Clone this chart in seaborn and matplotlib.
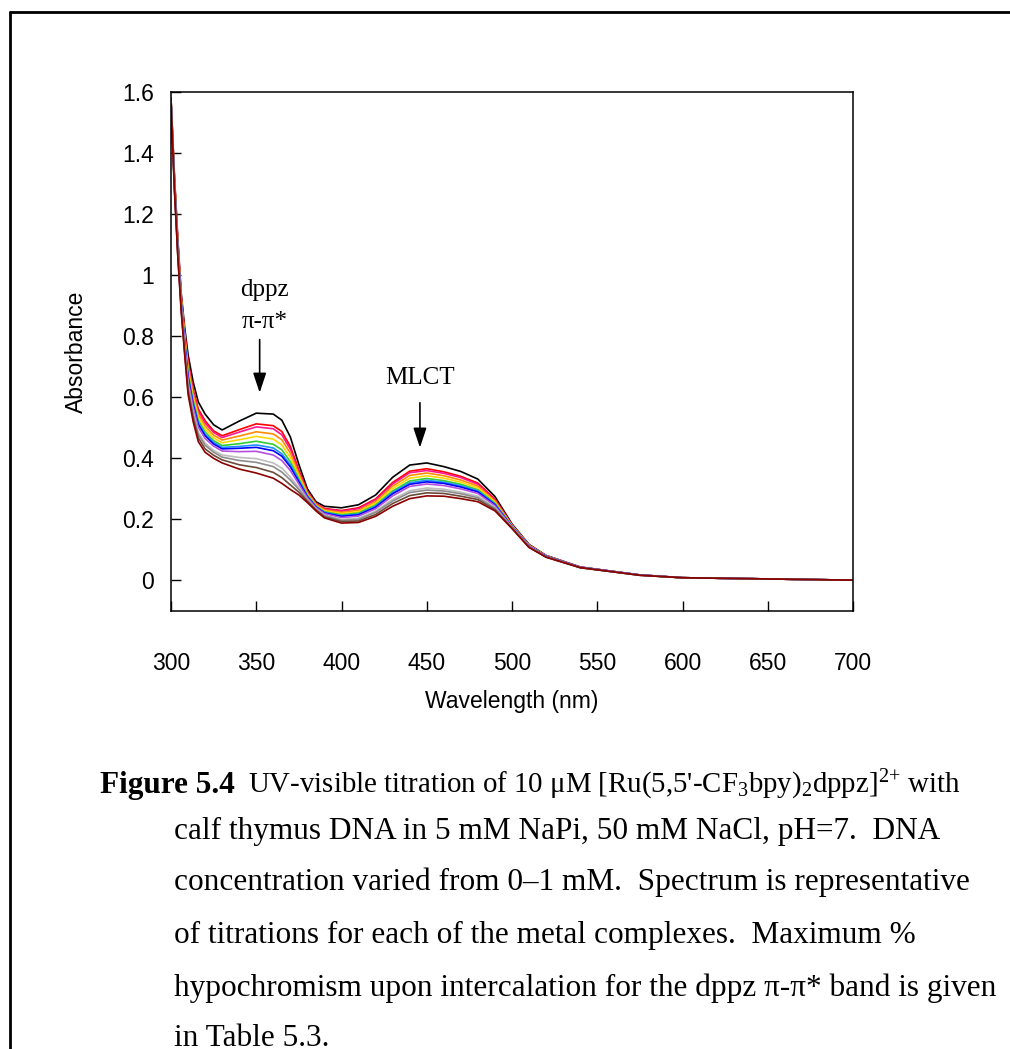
import numpy as np
import pandas as pd
import matplotlib
matplotlib.use("Agg")
import matplotlib.pyplot as plt
from matplotlib.lines import Line2D
import seaborn as sns

# ---------------- data ----------------
wavelength = [300, 302, 304, 306, 308, 310, 313, 316, 320, 325, 330, 340, 350, 360, 365,
              370, 375, 380, 385, 390, 400, 410, 420, 430, 440, 450, 460, 470, 480, 490,
              500, 510, 520, 540, 575, 600, 700]

a_black = [1.580, 1.330, 1.120, 0.940, 0.830, 0.740, 0.650, 0.585, 0.545, 0.510, 0.493, 0.522, 0.548, 0.545, 0.525,
           0.470, 0.380, 0.300, 0.258, 0.243, 0.238, 0.248, 0.280, 0.338, 0.378, 0.385, 0.373, 0.357, 0.332, 0.275,
           0.185, 0.118, 0.082, 0.044, 0.018, 0.009, 0.001]
a_red = [1.576, 1.321, 1.109, 0.929, 0.814, 0.717, 0.627, 0.562, 0.523, 0.490, 0.474, 0.494, 0.513, 0.507, 0.488,
         0.439, 0.362, 0.292, 0.253, 0.236, 0.229, 0.238, 0.267, 0.321, 0.358, 0.366, 0.356, 0.341, 0.319, 0.267,
         0.182, 0.116, 0.081, 0.044, 0.018, 0.009, 0.001]
a_pink = [1.575, 1.318, 1.106, 0.926, 0.809, 0.710, 0.620, 0.555, 0.516, 0.485, 0.468, 0.486, 0.503, 0.497, 0.477,
          0.430, 0.357, 0.290, 0.251, 0.234, 0.227, 0.235, 0.264, 0.316, 0.353, 0.360, 0.351, 0.337, 0.315, 0.264,
          0.182, 0.116, 0.081, 0.044, 0.018, 0.009, 0.001]
a_orange = [1.574, 1.314, 1.101, 0.921, 0.802, 0.700, 0.610, 0.545, 0.506, 0.476, 0.460, 0.473, 0.487, 0.480, 0.461,
            0.417, 0.349, 0.286, 0.249, 0.231, 0.223, 0.230, 0.258, 0.309, 0.344, 0.352, 0.343, 0.329, 0.309, 0.260,
            0.180, 0.115, 0.080, 0.043, 0.018, 0.009, 0.001]
a_yellow = [1.572, 1.310, 1.097, 0.917, 0.795, 0.689, 0.599, 0.534, 0.496, 0.467, 0.451, 0.461, 0.472, 0.463, 0.444,
            0.403, 0.341, 0.282, 0.246, 0.228, 0.219, 0.225, 0.253, 0.301, 0.335, 0.343, 0.335, 0.322, 0.303, 0.257,
            0.179, 0.114, 0.080, 0.043, 0.018, 0.009, 0.001]
a_lime = [1.571, 1.307, 1.092, 0.912, 0.788, 0.679, 0.589, 0.524, 0.486, 0.458, 0.442, 0.448, 0.456, 0.446, 0.428,
          0.389, 0.333, 0.279, 0.244, 0.225, 0.215, 0.221, 0.247, 0.293, 0.326, 0.334, 0.327, 0.315, 0.297, 0.253,
          0.178, 0.113, 0.079, 0.043, 0.018, 0.009, 0.001]
a_dblue = [1.569, 1.304, 1.088, 0.908, 0.782, 0.671, 0.581, 0.516, 0.479, 0.452, 0.436, 0.439, 0.444, 0.434, 0.415,
           0.379, 0.327, 0.276, 0.242, 0.223, 0.212, 0.217, 0.243, 0.288, 0.320, 0.328, 0.322, 0.310, 0.293, 0.250,
           0.177, 0.113, 0.079, 0.043, 0.018, 0.009, 0.001]
a_blue = [1.569, 1.302, 1.086, 0.906, 0.779, 0.666, 0.576, 0.511, 0.474, 0.447, 0.431, 0.433, 0.436, 0.425, 0.407,
          0.372, 0.323, 0.274, 0.241, 0.221, 0.210, 0.215, 0.240, 0.284, 0.315, 0.323, 0.318, 0.306, 0.290, 0.248,
          0.176, 0.112, 0.079, 0.043, 0.018, 0.009, 0.001]
a_violet = [1.567, 1.298, 1.082, 0.902, 0.772, 0.657, 0.567, 0.502, 0.465, 0.440, 0.424, 0.422, 0.423, 0.411, 0.393,
            0.360, 0.316, 0.271, 0.239, 0.219, 0.206, 0.211, 0.235, 0.277, 0.308, 0.316, 0.311, 0.300, 0.285, 0.245,
            0.175, 0.112, 0.078, 0.043, 0.018, 0.009, 0.001]
a_silver = [1.565, 1.292, 1.074, 0.894, 0.762, 0.641, 0.551, 0.486, 0.450, 0.426, 0.411, 0.403, 0.399, 0.385, 0.368,
            0.339, 0.304, 0.266, 0.235, 0.214, 0.200, 0.204, 0.227, 0.266, 0.294, 0.303, 0.299, 0.289, 0.276, 0.239,
            0.174, 0.110, 0.077, 0.042, 0.017, 0.009, 0.001]
a_gray = [1.564, 1.289, 1.071, 0.891, 0.756, 0.633, 0.543, 0.478, 0.443, 0.420, 0.404, 0.393, 0.387, 0.373, 0.355,
          0.329, 0.298, 0.263, 0.233, 0.212, 0.197, 0.200, 0.223, 0.260, 0.288, 0.296, 0.293, 0.284, 0.271, 0.236,
          0.173, 0.110, 0.077, 0.042, 0.017, 0.009, 0.001]
a_brown = [1.562, 1.285, 1.065, 0.885, 0.748, 0.622, 0.532, 0.467, 0.431, 0.410, 0.395, 0.379, 0.370, 0.354, 0.337,
           0.313, 0.289, 0.259, 0.231, 0.208, 0.193, 0.195, 0.216, 0.252, 0.278, 0.287, 0.285, 0.276, 0.265, 0.232,
           0.171, 0.109, 0.077, 0.042, 0.017, 0.009, 0.001]
a_darkred = [1.560, 1.280, 1.060, 0.880, 0.740, 0.610, 0.520, 0.455, 0.420, 0.400, 0.385, 0.365, 0.352, 0.335, 0.318,
             0.298, 0.280, 0.255, 0.228, 0.205, 0.188, 0.190, 0.210, 0.243, 0.268, 0.277, 0.276, 0.268, 0.258, 0.228,
             0.170, 0.108, 0.076, 0.042, 0.017, 0.009, 0.001]

series_names = ["s01", "s02", "s03", "s04", "s05", "s06", "s07", "s08", "s09", "s10", "s11", "s12", "s13"]
series_values = [a_black, a_red, a_pink, a_orange, a_yellow, a_lime, a_dblue, a_blue,
                 a_violet, a_silver, a_gray, a_brown, a_darkred]
series_colors = ["#000000", "#ff0000", "#ff1493", "#ff8c00", "#ffd700", "#32cd32", "#1e90ff",
                 "#0000ff", "#b44fe0", "#bdbdbd", "#8c8c8c", "#6b4a3a", "#8b0000"]

x_ticks = [300, 350, 400, 450, 500, 550, 600, 650, 700]
y_ticks = [0, 0.2, 0.4, 0.6, 0.8, 1.0, 1.2, 1.4, 1.6]
y_tick_labels = ["0", "0.2", "0.4", "0.6", "0.8", "1", "1.2", "1.4", "1.6"]

caption_first = "UV-visible titration of 10 \u03bcM [Ru(5,5'-CF$_3$bpy)$_2$dppz]$^{2{+}}$ with"
caption_lines = [
    "calf thymus DNA in 5 mM NaPi, 50 mM NaCl, pH=7.  DNA",
    "concentration varied from 0\u20131 mM.  Spectrum is representative",
    "of titrations for each of the metal complexes.  Maximum %",
    "hypochromism upon intercalation for the dppz \u03c0-\u03c0* band is given",
    "in Table 5.3.",
]

# ---------------- build table ----------------
frames = []
for name, vals in zip(series_names, series_values):
    frames.append(pd.DataFrame({"Wavelength": wavelength, "Absorbance": vals, "series": name}))
df = pd.concat(frames, ignore_index=True)

# ---------------- figure ----------------
sns.set_theme(style="white")
plt.rcParams["font.family"] = ["Liberation Sans", "DejaVu Sans"]
plt.rcParams["mathtext.fontset"] = "custom"
plt.rcParams["mathtext.rm"] = "Liberation Serif"
plt.rcParams["mathtext.it"] = "Liberation Serif:italic"
plt.rcParams["mathtext.bf"] = "Liberation Serif:bold"

W, H = 1010, 1049
fig = plt.figure(figsize=(W / 100, H / 100), dpi=100)
fig.patch.set_facecolor("white")

ax_left, ax_right, ax_top, ax_bottom = 171, 853, 92, 611
ax = fig.add_axes([ax_left / W, 1 - ax_bottom / H, (ax_right - ax_left) / W, (ax_bottom - ax_top) / H])

sns.lineplot(data=df, x="Wavelength", y="Absorbance", hue="series", hue_order=series_names,
             palette=dict(zip(series_names, series_colors)), estimator=None, sort=False,
             linewidth=1.2, legend=False, ax=ax)

ax.set_xlim(300, 700)
ax.set_ylim(-0.1, 1.6)
ax.set_xticks(x_ticks)
ax.set_xticklabels([str(t) for t in x_ticks])
ax.set_yticks(y_ticks)
ax.set_yticklabels(y_tick_labels)
ax.tick_params(axis="x", which="major", bottom=True, top=False, direction="in", length=7, width=1.0,
               pad=29.5, labelsize=16.5, colors="black")
ax.tick_params(axis="y", which="major", left=True, right=False, direction="in", length=7, width=1.0,
               pad=12.5, labelsize=16.5, colors="black")
for sp in ax.spines.values():
    sp.set_visible(True)
    sp.set_color("black")
    sp.set_linewidth(1.1)
ax.grid(False)

ax.set_xlabel("Wavelength (nm)", fontsize=16.5, color="black")
ax.set_ylabel("Absorbance", fontsize=16.5, color="black")
ax.xaxis.set_label_coords(0.5, -(690 - ax_bottom) / (ax_bottom - ax_top))
ax.yaxis.set_label_coords(-(ax_left - 88) / (ax_right - ax_left), 0.5)

# annotations
serif = ["Liberation Serif", "DejaVu Serif"]
ax.text(355, 0.952, "dppz", family=serif, fontsize=18, ha="center", va="center", color="black")
ax.text(355, 0.848, "\u03c0-\u03c0*", family=serif, fontsize=18, ha="center", va="center", color="black")
ax.annotate("", xy=(352, 0.615), xytext=(352, 0.789),
            arrowprops=dict(arrowstyle="-|>,head_length=0.6,head_width=0.2", color="black",
                            lw=1.2, shrinkA=0, shrinkB=0, mutation_scale=20))
ax.text(446, 0.664, "MLCT", family=serif, fontsize=18, ha="center", va="center", color="black")
ax.annotate("", xy=(446, 0.435), xytext=(446, 0.582),
            arrowprops=dict(arrowstyle="-|>,head_length=0.6,head_width=0.2", color="black",
                            lw=1.2, shrinkA=0, shrinkB=0, mutation_scale=20))

# frame around the figure (continues past the right and bottom edges)
fig.add_artist(Line2D([10 / W, 10 / W], [-0.05, 1 - 12 / H], color="black", lw=2.0))
fig.add_artist(Line2D([10 / W, 1.05], [1 - 12 / H, 1 - 12 / H], color="black", lw=2.0))

# caption
cap_size = 22.5
fig.text(100 / W, 1 - 785 / H, "Figure 5.4", family=serif, fontweight="bold", fontsize=cap_size,
         ha="left", va="center", color="black")
fig.text(248 / W, 1 - 785 / H, caption_first,
         family=serif, fontsize=20.8, ha="left", va="center", color="black")
line_y = [831, 882, 935, 988, 1038]
for yy, line in zip(line_y, caption_lines):
    fig.text(174 / W, 1 - yy / H, line, family=serif, fontsize=cap_size, ha="left", va="center", color="black")

fig.savefig("out.png", dpi=100, facecolor="white")
